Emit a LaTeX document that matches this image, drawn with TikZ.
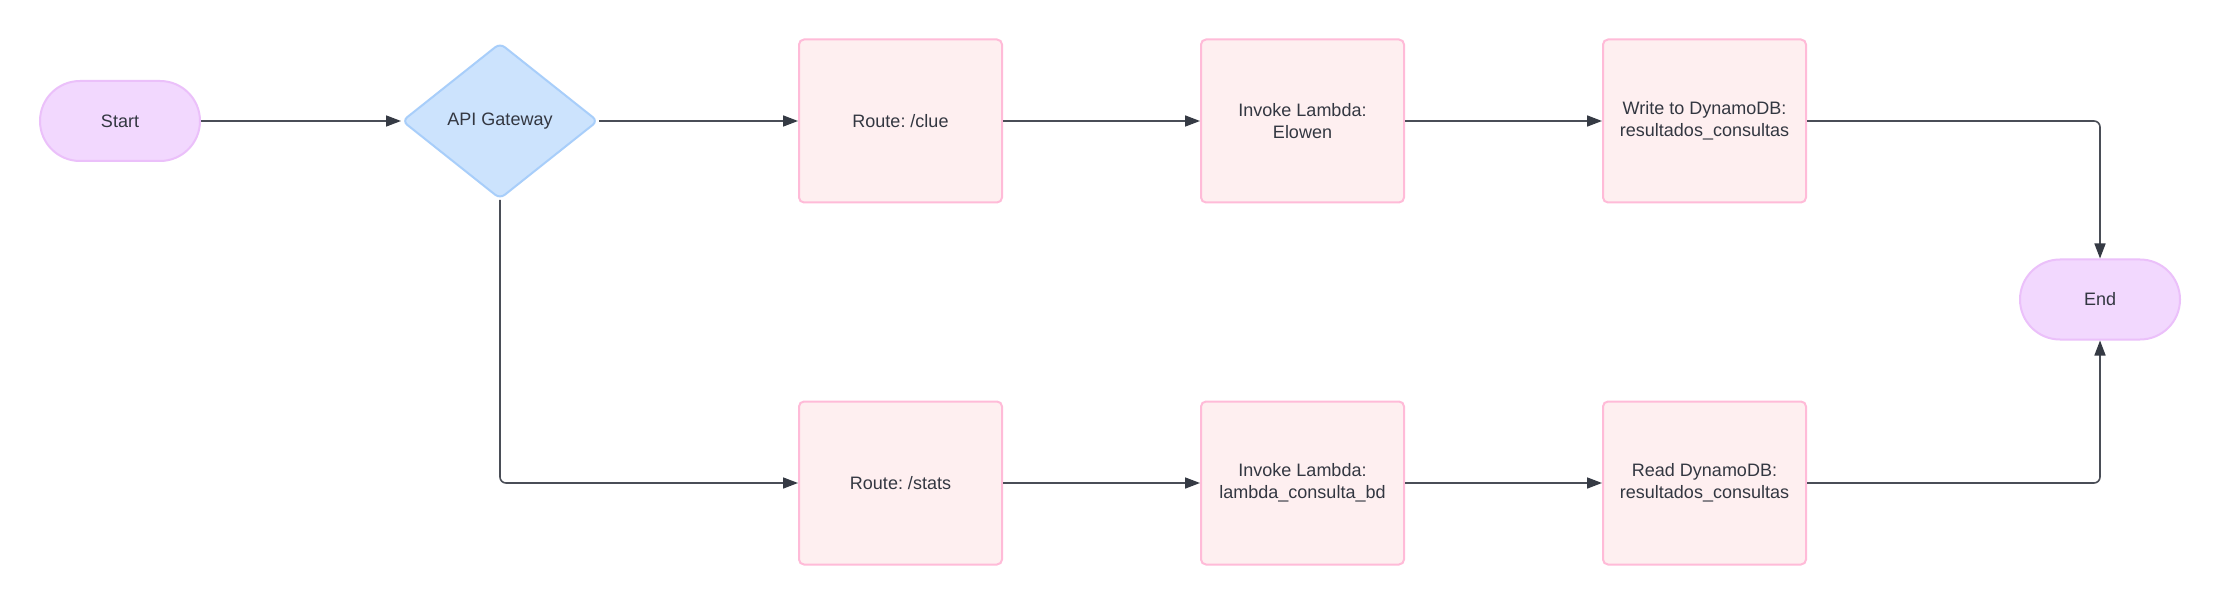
\documentclass[tikz,border=0pt]{standalone}
\usepackage{fontspec}
\setmainfont{Liberation Sans}
\usetikzlibrary{shapes.geometric,arrows.meta}
\frenchspacing
\definecolor{termfill}{HTML}{F2D8FE}
\definecolor{termdraw}{HTML}{EBC0FA}
\definecolor{decfill}{HTML}{CCE3FD}
\definecolor{decdraw}{HTML}{A8CEFA}
\definecolor{boxfill}{HTML}{FEEFF0}
\definecolor{boxdraw}{HTML}{FFBBD8}
\definecolor{txt}{HTML}{333741}
\definecolor{linecol}{HTML}{4A4E57}
\definecolor{tipcol}{HTML}{353A44}
\tikzset{
  base/.style={line width=2pt, text=txt, font=\frenchspacing\fontsize{18}{22}\selectfont, align=center, inner sep=0pt},
  term/.style={base, rectangle, rounded corners=40pt, fill=termfill, draw=termdraw, minimum width=160pt, minimum height=80pt},
  dec/.style={base, diamond, aspect=1.256, rounded corners=6pt, fill=decfill, draw=decdraw, minimum width=196pt, minimum height=156pt},
  procbox/.style={base, rectangle, rounded corners=5pt, fill=boxfill, draw=boxdraw, minimum width=203pt, minimum height=163pt},
  conn/.style={draw=linecol, line width=1.6pt, -{Triangle[length=15pt,width=11pt,fill=tipcol,color=tipcol]}}
}
\begin{document}
\begin{tikzpicture}[x=1pt,y=-1pt]
\useasboundingbox[fill=white] (0,0) rectangle (2220,604);
\node[term] (start) at (120,121) {Start};
\node[dec] (api) at (500,121) {API Gateway};
\node[procbox] (clue) at (900.5,121) {Route: /clue};
\node[procbox] (inv1) at (1302.5,121) {Invoke Lambda:\\Elowen};
\node[procbox] (write) at (1704.5,121) {Write to DynamoDB:\\resultados\_consultas};
\node[procbox] (stats) at (900.5,483) {Route: /stats};
\node[procbox] (inv2) at (1302.5,483) {Invoke Lambda:\\lambda\_consulta\_bd};
\node[procbox] (read) at (1704.5,483) {Read DynamoDB:\\resultados\_consultas};
\node[term] (end) at (2100,299.5) {End};
\draw[conn] (start) -- (api);
\draw[conn] (api) -- (clue);
\draw[conn] (clue) -- (inv1);
\draw[conn] (inv1) -- (write);
\draw[conn] (stats) -- (inv2);
\draw[conn] (inv2) -- (read);
\draw[conn, rounded corners=6pt] (api.south) |- (stats.west);
\draw[conn, rounded corners=6pt] (write.east) -| (end.north);
\draw[conn, rounded corners=6pt] (read.east) -| (end.south);
\end{tikzpicture}
\end{document}
